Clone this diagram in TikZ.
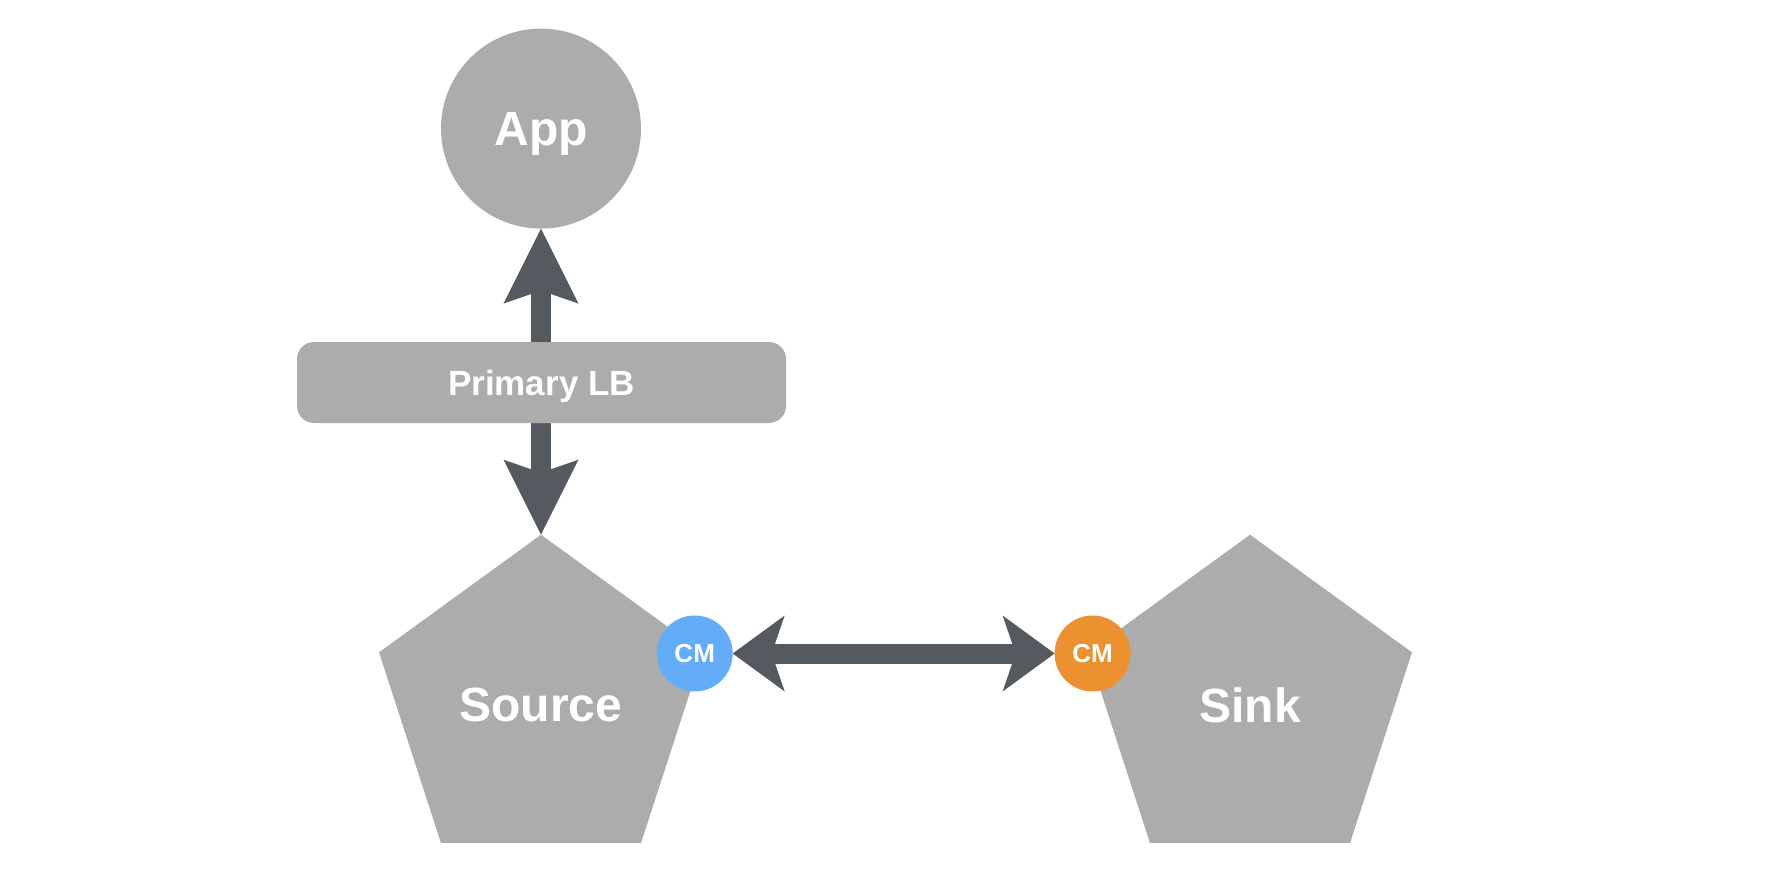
\documentclass[tikz,border=0pt]{standalone}
\usepackage{fontspec}
\setmainfont{Liberation Sans}
\usetikzlibrary{arrows.meta,positioning,shapes.geometric}
\definecolor{nodegray}{RGB}{171,172,171}
\definecolor{arrowgray}{RGB}{85,90,97}
\definecolor{cmblue}{RGB}{99,173,248}
\definecolor{cmorange}{RGB}{236,145,47}

\begin{document}
\begin{tikzpicture}[x=1pt, y=-1pt,
  service/.style={fill=nodegray, text=white, inner sep=0pt, outer sep=0pt,
                  text depth=0pt, font=\fontsize{48}{52}\selectfont\bfseries},
  appnode/.style={service, circle, minimum size=200pt},
  pent/.style={service, regular polygon, regular polygon sides=5,
               minimum size=340.6pt},
  lbbox/.style={service, rounded corners=17pt, minimum width=489pt,
                minimum height=81pt, font=\fontsize{35}{38}\selectfont\bfseries},
  cmdot/.style={circle, text=white, inner sep=0pt, outer sep=0pt,
             minimum size=76pt, font=\fontsize{26}{28}\selectfont\bfseries},
  vtip/.tip={Stealth[length=75pt, width=75pt, inset=13pt, line width=0pt]},
  htip/.tip={Stealth[length=52pt, width=76pt, inset=13pt, line width=0pt]},
  varr/.style={draw=arrowgray, line width=20.5pt, vtip-vtip},
  harr/.style={draw=arrowgray, line width=20pt, htip-htip}
]
\useasboundingbox (0,0) rectangle (1792,888);

\node[appnode] (app)    at (541,128.6) {App};
\node[pent]    (source) at (541,705)   {Source};
\node[pent]    (sink)   at (1250,705)  {Sink};

\node[cmdot, fill=cmblue]   (cmsrc)  at (694.7,653.5) {CM};
\node[cmdot, fill=cmorange] (cmsink) at (1092.6,653.5) {CM};

\draw[varr] (source.corner 1) -- (app.south);
\draw[harr] (cmsrc.east) -- (cmsink.west);

\node[lbbox] (lb) at (541.5,382.5) {Primary LB};
\end{tikzpicture}
\end{document}
